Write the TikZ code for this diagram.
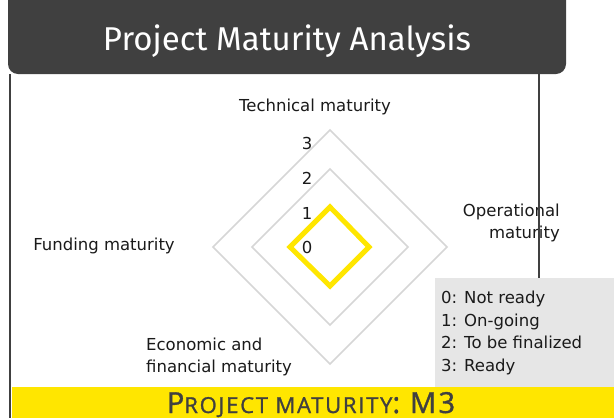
\documentclass[tikz,border=0pt]{standalone}
\usepackage{fontspec}
\setmainfont{DejaVu Sans}
\newfontfamily\titlefont{Fira Sans}
\newfontfamily\resultfont[LetterSpace=8,FakeBold=1.2]{Open Sans}
\definecolor{eydark}{HTML}{404040}
\definecolor{eyyellow}{HTML}{FFE600}
\definecolor{gridgray}{HTML}{D6D6D6}
\definecolor{legendgray}{HTML}{E6E6E6}
\definecolor{labeltext}{HTML}{1A1A1A}
\tikzset{
  axislabel/.style={font=\fontsize{16.5}{22}\selectfont, text=labeltext, inner sep=0pt},
  levellabel/.style={font=\fontsize{16.5}{20}\selectfont, text=labeltext, inner sep=0pt},
  gridline/.style={gridgray, line width=1.5pt, line join=miter},
  frameline/.style={eydark, line width=2pt}
}
\begin{document}
\begin{tikzpicture}[x=1pt,y=-1pt]
      \useasboundingbox (0,0) rectangle (614,418);
      % title bar
      \fill[eydark, rounded corners=10pt] (8,-12) rectangle (566,74);
      \node[text=white, font=\titlefont\fontsize{33}{33}\selectfont, anchor=base] (title) at (287,50) {Project Maturity Analysis};
      \coordinate (c) at (330,247);
      % grid
      \begin{scope}[shift={(c)}]
        \draw[gridline] (0:117) -- (90:117) -- (180:117) -- (270:117) -- cycle;
        \draw[gridline] (0:78) -- (90:78) -- (180:78) -- (270:78) -- cycle;
        \draw[gridline] (0:39) -- (90:39) -- (180:39) -- (270:39) -- cycle;
        \draw[eyyellow, line width=5pt, line join=miter]
          (0:39) -- (90:39) -- (180:40) -- (270:40) -- cycle;
      \end{scope}
      \draw
        (307,143) node[levellabel] (l3){3}
        (307,178) node[levellabel] (l2){2}
        (307,213) node[levellabel] (l1){1}
        (307,247) node[levellabel] (l0){0};
      % axis labels
      \node[axislabel] (tech) at (315,107) {Technical maturity};
      \node[axislabel, align=right, anchor=east] (oper) at (560,223) {Operational\\maturity};
      \node[axislabel] (fund) at (104,246) {Funding maturity};
      \node[axislabel, align=left, anchor=west] (econ) at (146,357) {Economic and\\financial maturity};
      % frame
      \draw[frameline] (10,74) -- (10,418);
      \draw[frameline] (539,74) -- (539,279);
      % legend
      \fill[legendgray] (435,278) rectangle (614,387);
      \node[axislabel, align=left, anchor=west, font=\fontsize{16.5}{22.7}\selectfont] (legend) at (441,333)
        {0: Not ready\\1: On-going\\2: To be finalized\\3: Ready};
      % result
      \fill[eyyellow] (12,387) rectangle (614,418);
      \node[text=eydark, font=\resultfont, anchor=base, inner sep=0pt] (result) at (311,413)
        {\fontsize{29}{29}\selectfont P\fontsize{22}{22}\selectfont ROJECT MATURITY\fontsize{29}{29}\selectfont : M3};
    \end{tikzpicture}
\end{document}
